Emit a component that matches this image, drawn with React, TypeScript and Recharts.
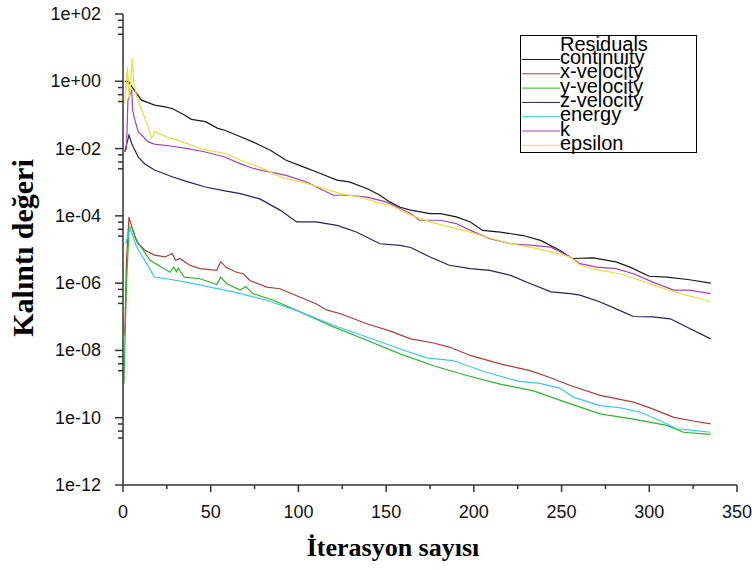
import React from 'react';
import { LineChart, Line, XAxis, YAxis, Legend } from 'recharts';

// residual histories (iteration, residual)
const continuityIt = [1, 3, 7, 10.6, 18, 24, 28, 35, 39, 47, 54, 58, 67, 74, 84, 93, 105, 110, 122, 129, 139, 146.5, 152, 158, 164, 175, 181, 190, 198, 205, 215, 228, 238, 249, 256, 268, 281, 289, 300, 310, 323, 335];
const continuityVal = [1.0, 1.0, 0.49, 0.275, 0.195, 0.174, 0.155, 0.1, 0.074, 0.063, 0.04, 0.035, 0.0224, 0.0158, 0.0089, 0.00447, 0.00257, 0.00204, 0.00115, 0.00102, 6.5e-4, 4.1e-4, 2.6e-4, 1.8e-4, 1.48e-4, 1.17e-4, 1.17e-4, 9.3e-5, 6.6e-5, 3.7e-5, 3.3e-5, 2.6e-5, 1.86e-5, 9.5e-6, 5.4e-6, 5.6e-6, 4.3e-6, 3.0e-6, 1.6e-6, 1.5e-6, 1.26e-6, 1.0e-6];

const xVelIt = [1, 2, 3.4, 5, 6.8, 8.7, 12.5, 18, 24, 28, 30, 32.5, 38, 44, 53.4, 55.7, 59, 64.8, 68.6, 72.4, 82, 89.5, 101, 110, 116, 124, 139, 152, 164, 177, 186, 198, 215, 232, 243, 255, 272, 291, 300, 314, 325, 335];
const xVelVal = [2.8e-8, 5e-6, 9.3e-5, 4.7e-5, 2.3e-5, 1.48e-5, 9.5e-6, 6.8e-6, 6.0e-6, 7.6e-6, 4.8e-6, 5.4e-6, 3.4e-6, 2.7e-6, 2.4e-6, 4.3e-6, 2.9e-6, 2.1e-6, 1.9e-6, 1.2e-6, 7.6e-7, 6.8e-7, 3.8e-7, 2.45e-7, 1.6e-7, 1.23e-7, 6.2e-8, 3.8e-8, 2.2e-8, 1.66e-8, 1.26e-8, 7.1e-9, 4.0e-9, 2.5e-9, 1.6e-9, 9.1e-10, 4.6e-10, 2.9e-10, 2.0e-10, 1.02e-10, 8e-11, 6.6e-11];

const yVelIt = [0.5, 2, 3.5, 5, 7.8, 15.4, 26.8, 29, 30.5, 31.5, 35, 44, 53.4, 55.7, 59, 66.7, 70, 74, 85.7, 101, 120, 139, 158, 177, 196, 215, 234, 253, 272, 291, 310, 319.5, 335];
const yVelVal = [1e-9, 1e-6, 4.5e-5, 4.7e-5, 1.86e-5, 4.8e-6, 2.1e-6, 3.0e-6, 2.2e-6, 2.8e-6, 1.5e-6, 1.35e-6, 9.1e-7, 1.5e-6, 9.8e-7, 6.2e-7, 7.9e-7, 4.9e-7, 3.1e-7, 1.4e-7, 5e-8, 2e-8, 7.9e-9, 3.5e-9, 1.8e-9, 1e-9, 6.3e-10, 2.8e-10, 1.3e-10, 9.1e-11, 5.9e-11, 3.7e-11, 3.2e-11];

const zVelIt = [1, 3.4, 5, 6.8, 8.7, 12.5, 18, 28, 37, 47, 58, 67, 78, 89.5, 99, 110, 122, 133, 146.5, 158, 164, 175, 186, 198, 209, 221, 232, 244, 255, 260.5, 272, 283, 291, 302, 312, 323, 335];
const zVelVal = [0.008, 0.025, 0.014, 0.0089, 0.0056, 0.0035, 0.0023, 0.00145, 0.00102, 7.2e-4, 5.5e-4, 4.6e-4, 3.2e-4, 1.48e-4, 6.6e-5, 6.6e-5, 5.2e-5, 3.3e-5, 1.48e-5, 1.32e-5, 1.15e-5, 6.0e-6, 3.4e-6, 2.7e-6, 2.4e-6, 1.7e-6, 9.8e-7, 5.5e-7, 4.9e-7, 4.4e-7, 2.75e-7, 1.55e-7, 1.02e-7, 1.0e-7, 8.7e-8, 4.5e-8, 2.2e-8];

const energyIt = [1.5, 4, 7.8, 13.5, 18, 25, 36, 49.6, 63, 82, 101, 120, 139, 158, 173, 188, 207.5, 226, 237.7, 249, 256.6, 272, 283, 295, 306, 315.6, 325, 335];
const energyVal = [1.5e-5, 4.2e-5, 1.2e-5, 3.8e-6, 1.5e-6, 1.35e-6, 1.07e-6, 7.6e-7, 5.5e-7, 3.1e-7, 1.4e-7, 5.6e-8, 2.5e-8, 1.1e-8, 6e-9, 5e-9, 2.2e-9, 1.2e-9, 1.05e-9, 7.6e-10, 4.1e-10, 2.3e-10, 2e-10, 1.45e-10, 8.3e-11, 4.7e-11, 4.2e-11, 3.7e-11];

const kIt = [1, 2, 2.8, 5, 5.5, 6.5, 8.7, 14.4, 18, 28, 37, 47, 58, 67, 74, 84, 93, 105, 112, 120, 129, 139, 150, 158, 164, 169, 181, 190, 198, 209, 221, 232, 244, 255, 260.5, 270, 281, 291, 302, 314, 323, 335];
const kVal = [0.008, 0.01, 0.27, 0.55, 0.14, 0.079, 0.0316, 0.0158, 0.0135, 0.0117, 0.01, 0.0079, 0.0056, 0.0035, 0.0026, 0.002, 0.0016, 0.001, 6.5e-4, 4.1e-4, 4.1e-4, 3.6e-4, 2.6e-4, 1.66e-4, 1.17e-4, 7.4e-5, 7.4e-5, 5.9e-5, 3.7e-5, 2.1e-5, 1.48e-5, 1.35e-5, 1.17e-5, 6.0e-6, 3.8e-6, 3.0e-6, 2.7e-6, 1.9e-6, 1.07e-6, 6.2e-7, 6.2e-7, 4.9e-7];

const epsilonIt = [1, 2.5, 3.6, 5.3, 6, 7.8, 10.6, 14.4, 16.3, 18, 25, 34, 44, 59, 67, 78, 89.5, 101, 112, 124, 135, 146.5, 152, 164, 175, 186, 198, 209, 221, 232, 244, 255, 260.5, 272, 283, 295, 306, 317.5, 329, 335];
const epsilonVal = [0.22, 2.7, 0.28, 5.0, 1.0, 0.35, 0.14, 0.045, 0.02, 0.032, 0.022, 0.0158, 0.01, 0.007, 0.0045, 0.0028, 0.00145, 0.00102, 7.2e-4, 4.6e-4, 3.6e-4, 2.35e-4, 2.1e-4, 1.05e-4, 6.6e-5, 4.7e-5, 3.3e-5, 2.2e-5, 1.48e-5, 1.17e-5, 8.5e-6, 6.0e-6, 3.4e-6, 2.4e-6, 1.9e-6, 1.2e-6, 7.6e-7, 4.9e-7, 3.5e-7, 2.75e-7];

const xTicks = [0, 25, 50, 75, 100, 125, 150, 175, 200, 225, 250, 275, 300, 325, 350];
const yMajor = [1e2, 1, 1e-2, 1e-4, 1e-6, 1e-8, 1e-10, 1e-12];
const yLabels = ['1e+02', '1e+00', '1e-02', '1e-04', '1e-06', '1e-08', '1e-10', '1e-12'];

const toRows = (its: number[], vals: number[]) => its.map((it, i) => ({ it, v: vals[i] }));

const series = [
  { name: 'continuity', color: '#1a1a1a', data: toRows(continuityIt, continuityVal) },
  { name: 'x-velocity', color: '#a8403a', data: toRows(xVelIt, xVelVal) },
  { name: 'y-velocity', color: '#2fb52f', data: toRows(yVelIt, yVelVal) },
  { name: 'z-velocity', color: '#24245c', data: toRows(zVelIt, zVelVal) },
  { name: 'energy', color: '#40c8e4', data: toRows(energyIt, energyVal) },
  { name: 'k', color: '#a844b0', data: toRows(kIt, kVal) },
  { name: 'epsilon', color: '#e6de4a', data: toRows(epsilonIt, epsilonVal) },
];

// minor ticks sit just below each labelled decade
const yTicks: number[] = [];
yMajor.forEach((m, i) => {
  yTicks.push(m);
  if (i < yMajor.length - 1) yTicks.push(m * 0.65, m * 0.4, m * 0.25);
});

const tickFont = { fontFamily: '"Liberation Sans", Arial, sans-serif', fontSize: 18, fill: '#111' };

function YTick(props: any) {
  const { x, y, payload } = props;
  const idx = yMajor.indexOf(payload.value);
  if (idx < 0) {
    return <line x1={x - 5} x2={x} y1={y} y2={y} stroke="#333" strokeWidth={1.5} />;
  }
  return (
    <g>
      <line x1={x - 8} x2={x} y1={y} y2={y} stroke="#333" strokeWidth={1.5} />
      <text x={x - 22} y={y} textAnchor="end" dominantBaseline="central" {...tickFont}>
        {yLabels[idx]}
      </text>
    </g>
  );
}

function XTick(props: any) {
  const { x, y, payload } = props;
  const major = payload.value % 50 === 0;
  return (
    <g>
      <line x1={x} x2={x} y1={y} y2={y + (major ? 7 : 4)} stroke="#333" strokeWidth={1.5} />
      {major && (
        <text x={x} y={y + 27} textAnchor="middle" dominantBaseline="central" {...tickFont}>
          {payload.value}
        </text>
      )}
    </g>
  );
}

function ResidualLegend() {
  const font = { fontFamily: '"Liberation Sans", Arial, sans-serif', fontSize: 20, fill: '#000' };
  return (
    <svg width={178} height={120} style={{ display: 'block' }}>
      <rect x={0.5} y={0.5} width={176} height={117} fill="#fff" stroke="#000" strokeWidth={1} />
      <text x={40} y={16} {...font}>Residuals</text>
      {series.map((s, i) => {
        const ly = 24.5 + i * 14.3;
        return (
          <g key={s.name}>
            <line x1={2} x2={40} y1={ly} y2={ly} stroke={s.color} strokeWidth={1} />
            <text x={40} y={ly + 4.5} {...font}>{s.name}</text>
          </g>
        );
      })}
    </svg>
  );
}

export default function App() {
  return (
    <div style={{ position: 'absolute', left: 0, top: 0, width: 752, height: 570, background: '#fff' }}>
      <LineChart width={752} height={570} margin={{ top: 14, right: 15, bottom: 0, left: 0 }}>
        <XAxis
          type="number"
          dataKey="it"
          domain={[0, 350]}
          ticks={xTicks}
          interval={0}
          tickSize={0}
          tickMargin={0}
          tick={<XTick />}
          height={85}
          axisLine={{ stroke: '#333', strokeWidth: 1.5 }}
          allowDataOverflow
        />
        <YAxis
          type="number"
          scale="log"
          domain={[1e-12, 1e2]}
          ticks={yTicks}
          interval={0}
          tickSize={0}
          tickMargin={0}
          tick={<YTick />}
          width={123}
          axisLine={{ stroke: '#333', strokeWidth: 1.5 }}
          allowDataOverflow
        />
        <Legend
          layout="horizontal"
          verticalAlign="middle"
          align="center"
          wrapperStyle={{ left: 520, top: 35, width: 178, height: 120 }}
          content={() => <ResidualLegend />}
        />
        {series.map((s) => (
          <Line
            key={s.name}
            data={s.data}
            dataKey="v"
            name={s.name}
            type="linear"
            stroke={s.color}
            strokeWidth={1.2}
            dot={false}
            isAnimationActive={false}
          />
        ))}
      </LineChart>
      <div
        style={{
          position: 'absolute',
          left: 23,
          top: 248,
          transform: 'translate(-50%, -50%) rotate(-90deg)',
          whiteSpace: 'nowrap',
          fontFamily: '"Liberation Serif", "Times New Roman", serif',
          fontWeight: 'bold',
          fontSize: 30,
        }}
      >
        Kalıntı değeri
      </div>
      <div
        style={{
          position: 'absolute',
          left: 393,
          top: 548,
          transform: 'translate(-50%, -50%)',
          whiteSpace: 'nowrap',
          fontFamily: '"Liberation Serif", "Times New Roman", serif',
          fontWeight: 'bold',
          fontSize: 26,
        }}
      >
        İterasyon sayısı
      </div>
    </div>
  );
}
